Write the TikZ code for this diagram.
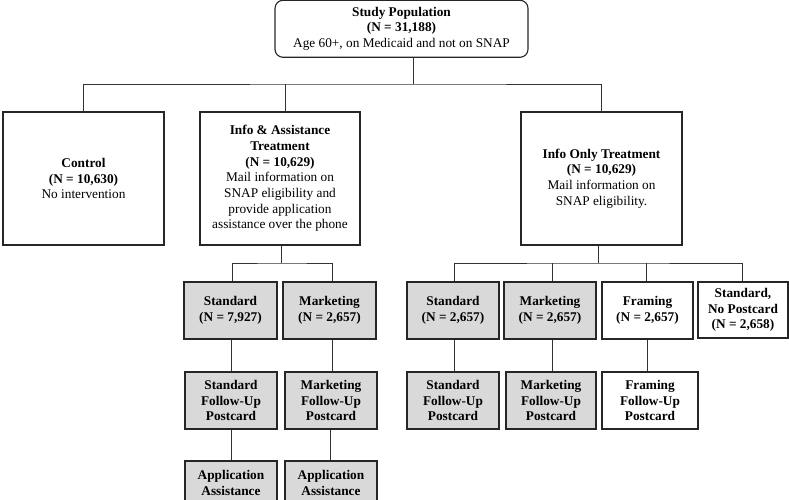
\documentclass[tikz,border=0pt]{standalone}
\usepackage{fontspec}
\setmainfont{Liberation Serif}
\begin{document}
\begin{tikzpicture}[x=1pt,y=-1pt,
  box/.style={draw=black!85, line width=1.1pt, align=center, inner sep=0pt,
    font=\fontsize{13.3}{15.7}\selectfont},
  gbox/.style={box, fill=black!15},
  big/.style={minimum width=161, minimum height=133},
  small/.style={minimum width=92, minimum height=57},
  conn/.style={draw=black!80, line width=0.9pt}]
\useasboundingbox (0,0) rectangle (789,500);
\clip (0,0) rectangle (789,500);

% top
\node[box, rounded corners=8pt, minimum width=253, minimum height=57] (top) at (401.5,28.8)
  {\textbf{Study Population}\\\textbf{(N = 31,188)}\\Age 60+, on Medicaid and not on SNAP};

% level 1
\node[box, big] (ctrl) at (83.5,178.5)
  {\textbf{Control}\\\textbf{(N = 10,630)}\\No intervention};
\node[box, big, minimum width=160] (assist) at (280,178.5)
  {\textbf{Info \& Assistance}\\\textbf{Treatment}\\\textbf{(N = 10,629)}\\Mail information on\\SNAP eligibility and\\provide application\\assistance over the phone};
\node[box, big] (only) at (601.5,178.5)
  {\textbf{Info Only Treatment}\\\textbf{(N = 10,629)}\\Mail information on\\SNAP eligibility.};

% level 2 left
\node[gbox, small, minimum width=93] (stdA) at (230.5,310.5) {\textbf{Standard}\\\textbf{(N = 7,927)}};
\node[gbox, small, minimum width=93] (mktA) at (329.5,310.5) {\textbf{Marketing}\\\textbf{(N = 2,657)}};
\node[gbox, small] (fstdA) at (231,400.5) {\textbf{Standard}\\\textbf{Follow-Up}\\\textbf{Postcard}};
\node[gbox, small] (fmktA) at (331,400.5) {\textbf{Marketing}\\\textbf{Follow-Up}\\\textbf{Postcard}};
\node[gbox, small, minimum height=60] (appA) at (231,491) {\textbf{Application}\\\textbf{Assistance}\\\phantom{X}};
\node[gbox, small, minimum height=60] (appB) at (331,491) {\textbf{Application}\\\textbf{Assistance}\\\phantom{X}};

% level 2 right
\node[gbox, small] (stdB) at (453,310.5) {\textbf{Standard}\\\textbf{(N = 2,657)}};
\node[gbox, small] (mktB) at (550,310.5) {\textbf{Marketing}\\\textbf{(N = 2,657)}};
\node[box, small, minimum width=91] (frmB) at (647.5,310.5) {\textbf{Framing}\\\textbf{(N = 2,657)}};
\node[box, small, minimum width=90, minimum height=56] (nopB) at (743,310) {\textbf{Standard,}\\\textbf{No Postcard}\\\textbf{(N = 2,658)}};
\node[gbox, small] (fstdB) at (453,400.5) {\textbf{Standard}\\\textbf{Follow-Up}\\\textbf{Postcard}};
\node[gbox, small, minimum width=90] (fmktB) at (551,400.5) {\textbf{Marketing}\\\textbf{Follow-Up}\\\textbf{Postcard}};
\node[box, small, minimum width=96] (ffrmB) at (650,400.5) {\textbf{Framing}\\\textbf{Follow-Up}\\\textbf{Postcard}};

% connectors level 0 -> 1
\coordinate (j1) at (413,84);
\draw[conn] (top.south -| j1) -- (j1);
\draw[conn] (ctrl.north) |- (j1) -| (only.north);
\draw[conn] ([xshift=5]assist.north) -- ([xshift=5]assist.north |- j1);

% left tree
\coordinate (j2) at (281.7,263);
\draw[conn] (assist.south -| j2) -- (j2);
\draw[conn] ([xshift=1.5]stdA.north) |- (j2) -| ([xshift=2.5]mktA.north);
\draw[conn] ([xshift=1.2]stdA.south) -- ([xshift=1.2]stdA.south |- fstdA.north);
\draw[conn] ([xshift=2.5]mktA.south) -- ([xshift=2.5]mktA.south |- fmktA.north);
\draw[conn] (fstdA.south) -- (fstdA.south |- appA.north);
\draw[conn] ([xshift=-1]fmktA.south) -- ([xshift=-1]fmktA.south |- appB.north);

% right tree
\coordinate (j3) at (598,263);
\draw[conn] (only.south -| j3) -- (j3);
\draw[conn] ([xshift=1]stdB.north) |- (j3) -| ([xshift=-1]nopB.north);
\draw[conn] ([xshift=2]mktB.north) -- ([xshift=2]mktB.north |- j3);
\draw[conn] ([xshift=-1.5]frmB.north) -- ([xshift=-1.5]frmB.north |- j3);
\draw[conn] ([xshift=1]stdB.south) -- ([xshift=1]stdB.south |- fstdB.north);
\draw[conn] ([xshift=2]mktB.south) -- ([xshift=2]mktB.south |- fmktB.north);
\draw[conn] (frmB.south) -- (frmB.south |- ffrmB.north);
\end{tikzpicture}
\end{document}
